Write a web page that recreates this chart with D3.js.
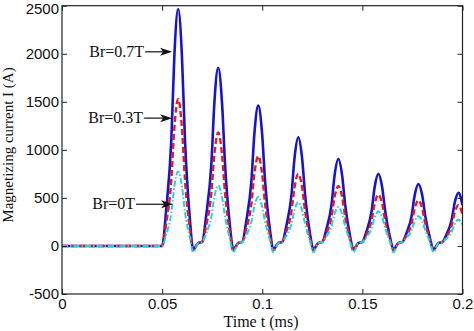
<!DOCTYPE html>
<html><head><meta charset="utf-8">
<script src="https://cdn.jsdelivr.net/npm/d3@7"></script>
<style>
html,body{margin:0;padding:0;background:#fff;}
svg{display:block;}
</style></head>
<body>
<svg id="c" width="474" height="331"></svg>
<script>
// ---- data ----
const time = [0,
0.050,0.052,0.0546,0.0561,0.058,0.0599,0.0614,0.0638,0.0655,0.068,
0.070,0.072,0.0746,0.0761,0.078,0.0799,0.0814,0.0838,0.0855,0.088,
0.090,0.092,0.0946,0.0961,0.098,0.0999,0.1014,0.1038,0.1055,0.108,
0.110,0.112,0.1146,0.1161,0.118,0.1199,0.1214,0.1238,0.1255,0.128,
0.130,0.132,0.1346,0.1361,0.138,0.1399,0.1414,0.1438,0.1455,0.148,
0.150,0.152,0.1546,0.1561,0.158,0.1599,0.1614,0.1638,0.1655,0.168,
0.170,0.172,0.1746,0.1761,0.178,0.1799,0.1814,0.1838,0.1855,0.188,
0.190,0.192,0.1946,0.1961,0.198,0.200];

const currentBr07 = [0,
0,370,1109,1972,2465,1972,1109,296,-35,30,
42,314,858,1492,1855,1492,858,223,-35,30,
42,255,680,1176,1460,1176,680,175,-35,30,
42,205,532,912,1130,912,532,136,-35,30,
42,171,430,732,905,732,430,109,-35,30,
42,148,361,608,750,608,361,90,-35,30,
42,132,313,524,645,524,313,77,-35,30,
42,119,272,450,552,425];

const currentBr03 = [0,
0,230,689,1224,1530,1224,689,184,-45,30,
42,213,554,952,1180,952,554,142,-45,30,
42,176,444,756,935,756,444,112,-45,30,
42,148,361,608,750,608,361,90,-45,30,
42,129,304,508,625,508,304,75,-45,30,
42,116,264,436,535,436,264,64,-45,30,
42,107,237,388,475,388,237,57,-45,30,
42,99,214,348,425,329];

const currentBr0 = [0,
0,116,349,620,775,620,349,93,-65,30,
42,130,307,512,630,512,307,76,-65,30,
42,112,253,416,510,416,253,61,-65,30,
42,104,228,372,455,372,228,55,-65,30,
42,96,205,332,405,332,205,49,-65,30,
42,90,185,296,360,296,185,43,-65,30,
42,82,163,256,310,256,163,37,-65,30,
42,77,147,228,275,217];

const xTicks = [0, 0.05, 0.1, 0.15, 0.2];
const yTicks = [-500, 0, 500, 1000, 1500, 2000, 2500];

const annLabels = ["Br=0.7T", "Br=0.3T", "Br=0T"];
const annValue = [2020, 1330, 434];
const annTextEnd = [0.041, 0.0405, 0.0365];
const annTip = [0.055, 0.055, 0.0555];

// ---- layout ----
const svg = d3.select("#c");
const L = 62, R = 462.5, T = 5.7, B = 294;
const x = d3.scaleLinear().domain([0, 0.2]).range([L, R]);
const y = d3.scaleLinear().domain([-500, 2500]).range([B, T]);

svg.append("defs").append("clipPath").attr("id","clip")
  .append("rect").attr("x",L).attr("y",T).attr("width",R-L).attr("height",B-T);

// series
const series = [
  {v: currentBr07, color: "#1414d2", width: 2.6, dash: null},
  {v: currentBr03, color: "#e61c1c", width: 2.4, dash: "6,3"},
  {v: currentBr0,  color: "#22d2d8", width: 2.0, dash: "6,2,1.5,2"}
];
const line = d3.line().curve(d3.curveMonotoneX);
const g = svg.append("g").attr("clip-path","url(#clip)");
series.forEach(s => {
  g.append("path")
    .attr("d", line(time.map((t,i) => [x(t), y(s.v[i])])))
    .attr("fill","none").attr("stroke", s.color)
    .attr("stroke-width", s.width)
    .attr("stroke-dasharray", s.dash)
    .attr("stroke-linejoin","round");
});

// axes
const fmt = d => String(d);
const axFont = "'Liberation Sans', Arial, sans-serif";
function styleAxis(sel, showText){
  sel.select(".domain").remove();
  sel.selectAll(".tick line").attr("stroke","#222").attr("stroke-width",1);
  sel.selectAll("text").attr("font-family", axFont).attr("font-size", 15).attr("fill","#111");
  if(!showText) sel.selectAll("text").remove();
}
svg.append("g").attr("transform",`translate(0,${B})`)
  .call(d3.axisBottom(x).tickValues(xTicks).tickFormat(fmt).tickSizeInner(-5).tickSizeOuter(0).tickPadding(4))
  .call(s => styleAxis(s, true));
svg.append("g").attr("transform",`translate(0,${T})`)
  .call(d3.axisTop(x).tickValues(xTicks).tickSizeInner(-5).tickSizeOuter(0))
  .call(s => styleAxis(s, false));
svg.append("g").attr("transform",`translate(${L},0)`)
  .call(d3.axisLeft(y).tickValues(yTicks).tickFormat(fmt).tickSizeInner(-5).tickSizeOuter(0).tickPadding(3))
  .call(s => styleAxis(s, true))
  .call(s => s.selectAll(".tick text").filter(d => d === 2500).attr("dy", "0.55em"));
svg.append("g").attr("transform",`translate(${R},0)`)
  .call(d3.axisRight(y).tickValues(yTicks).tickSizeInner(-5).tickSizeOuter(0))
  .call(s => styleAxis(s, false));

// frame
svg.append("rect").attr("x",L).attr("y",T).attr("width",R-L).attr("height",B-T)
  .attr("fill","none").attr("stroke","#222").attr("stroke-width",1.2);

// axis titles
const serif = "'Liberation Serif', 'Times New Roman', serif";
svg.append("text").attr("x", 261).attr("y", 327)
  .attr("text-anchor","middle").attr("font-family",serif).attr("font-size",16)
  .attr("fill","#111").text("Time t (ms)");
svg.append("text").attr("transform","translate(13,145) rotate(-90)")
  .attr("text-anchor","middle").attr("font-family",serif).attr("font-size",15)
  .attr("fill","#111").text("Magnetizing current I (A)");

// annotations
annLabels.forEach((lab,i) => {
  const yy = y(annValue[i]);
  const xe = x(annTextEnd[i]);
  const xt = x(annTip[i]);
  svg.append("text").attr("x", xe).attr("y", yy + 5)
    .attr("text-anchor","end").attr("font-family",serif).attr("font-size",16)
    .attr("fill","#111").text(lab);
  svg.append("line").attr("x1", xe + 1).attr("x2", xt - 8).attr("y1", yy).attr("y2", yy)
    .attr("stroke","#111").attr("stroke-width",1.2);
  svg.append("path")
    .attr("d", `M${xt},${yy} L${xt-12},${yy-4} L${xt-9},${yy} L${xt-12},${yy+4} Z`)
    .attr("fill","#111");
});
</script>
</body></html>
